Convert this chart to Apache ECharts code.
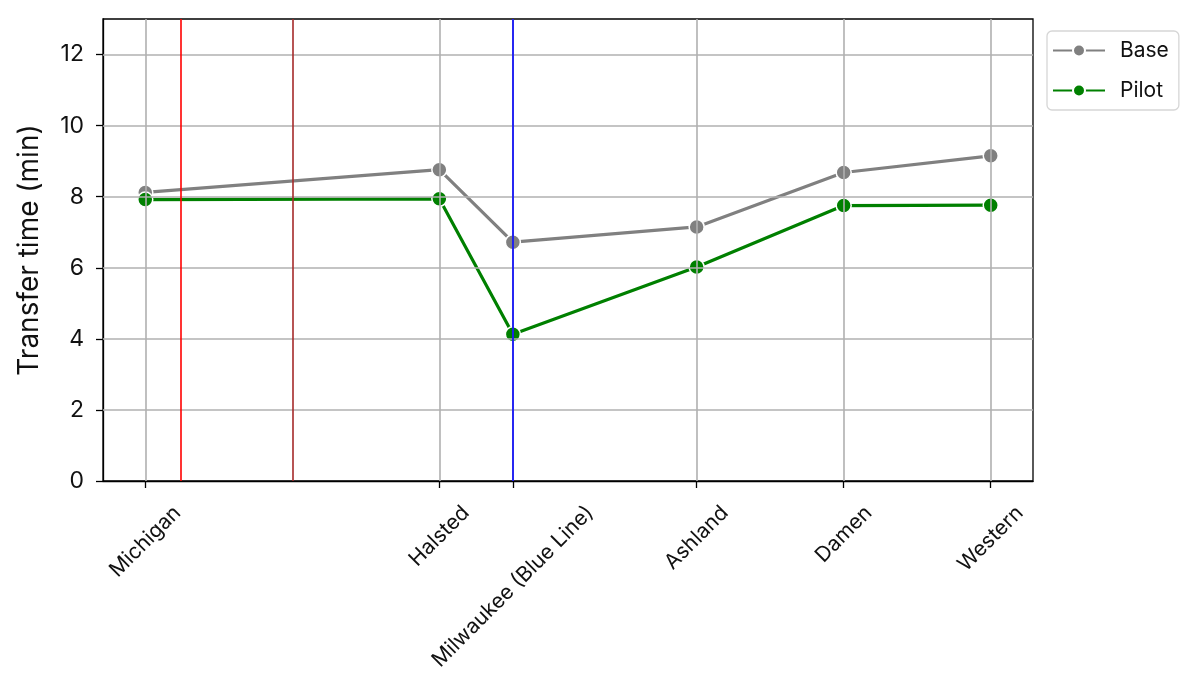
<!DOCTYPE html>
<html>
<head>
<meta charset="utf-8">
<script src="https://cdn.jsdelivr.net/npm/echarts@6/dist/echarts.min.js"></script>
<style>
html, body { margin: 0; padding: 0; background: #fff; }
#chart { width: 1200px; height: 698px; }
</style>
</head>
<body>
<div id="chart"></div>
<script>
// stations along the corridor (position in axis units)
var stations = ['Michigan', 'Halsted', 'Milwaukee (Blue Line)', 'Ashland', 'Damen', 'Western'];
var stationPos = [0, 2, 2.5, 3.75, 4.75, 5.75];
var baseTimes = [8.12, 8.76, 6.72, 7.15, 8.68, 9.15];
var pilotTimes = [7.92, 7.94, 4.13, 6.02, 7.75, 7.76];
var yTicks = [0, 2, 4, 6, 8, 10, 12];
// reference lines (position, colour)
var refLinePos = [0.24, 1.0, 2.5];
var refLineColors = ['#ff0000', '#a52a2a', '#0000ff'];

var FONT = 'Inter';
var XLAB_SIZE = 21;

function pairs(xs, ys){
	var out = [];
	for (var i = 0; i < xs.length; i++) out.push([xs[i], ys[i]]);
	return out;
}

// measure text so the rotated labels can be centred under the tick (matplotlib style)
var measureCtx = document.createElement('canvas').getContext('2d');
measureCtx.font = XLAB_SIZE + 'px ' + FONT;
var richLabels = {};
stations.forEach(function(s, i){
	var L = measureCtx.measureText(s).width, h = XLAB_SIZE;
	richLabels['s' + i] = {
		fontFamily: FONT, fontSize: XLAB_SIZE, color: '#111',
		padding: [Math.max(0, 0.25 * (L - h)), 0.5 * (L + h), 0, 0]
	};
});

function labelFor(v){
	for (var i = 0; i < stationPos.length; i++) {
		if (Math.abs(stationPos[i] - v) < 1e-6) return '{s' + i + '|' + stations[i] + '}';
	}
	return '';
}

function vline(name, pos, color, width, z){
	return {
		name: name,
		type: 'line',
		data: [],
		silent: true,
		z: z,
		color: color,
		markLine: {
			silent: true,
			symbol: 'none',
			label: { show: false },
			emphasis: { disabled: true },
			lineStyle: { color: color, width: width, type: 'solid', opacity: 1 },
			data: pos
		}
	};
}

var chart = echarts.init(document.getElementById('chart'), null, {renderer: 'canvas'});

var series = [];
// grid lines drawn as mark lines so they sit on the station positions
series.push(vline('gridx', stationPos.map(function(p){ return { xAxis: p }; }), '#b0b0b0', 1.6, 1));
series.push(vline('gridy', yTicks.slice(1).map(function(v){ return { yAxis: v }; }), '#b0b0b0', 1.6, 1));
refLinePos.forEach(function(p, i){
	series.push(vline('ref' + i, [{ xAxis: p }], refLineColors[i], 1.6, 2));
});
series.push({
	name: 'Base',
	type: 'line',
	z: 3,
	data: pairs(stationPos, baseTimes),
	symbol: 'circle', symbolSize: 15,
	lineStyle: { color: '#808080', width: 3.2 },
	itemStyle: { color: '#808080', borderColor: '#fff', borderWidth: 1.5 }
});
series.push({
	name: 'Pilot',
	type: 'line',
	z: 4,
	data: pairs(stationPos, pilotTimes),
	symbol: 'circle', symbolSize: 15,
	lineStyle: { color: '#008000', width: 3.2 },
	itemStyle: { color: '#008000', borderColor: '#fff', borderWidth: 1.5 }
});

var option = {
	animation: false,
	backgroundColor: '#fff',
	textStyle: { fontFamily: FONT },
	grid: {
		left: 103, right: 167, top: 19, bottom: 217,
		show: true, borderColor: '#000', borderWidth: 1.3,
		backgroundColor: 'transparent'
	},
	legend: {
		left: 1047, top: 31,
		orient: 'vertical',
		itemWidth: 52, itemHeight: 15, itemGap: 19,
		padding: [9, 10, 9, 5],
		borderColor: '#d6d6d6', borderWidth: 1.3, borderRadius: 5,
		textStyle: { fontFamily: FONT, fontSize: 21, color: '#111', padding: [0, 0, 0, 10] },
		data: ['Base', 'Pilot']
	},
	xAxis: {
		type: 'value',
		min: -0.2875, max: 6.0375,
		axisLine: { show: true, onZero: false, lineStyle: { color: '#000', width: 1.3 } },
		axisTick: { show: true, customValues: stationPos, length: 7, lineStyle: { color: '#000', width: 1.3 } },
		axisLabel: {
			customValues: stationPos,
			rotate: 45, margin: 21,
			align: 'center', verticalAlign: 'top',
			formatter: labelFor,
			rich: richLabels
		},
		splitLine: { show: false }
	},
	yAxis: {
		type: 'value',
		min: 0, max: 13,
		name: 'Transfer time (min)',
		nameLocation: 'middle', nameGap: 59,
		nameTextStyle: { fontFamily: FONT, fontSize: 28, color: '#111' },
		axisLine: { show: true, onZero: false, lineStyle: { color: '#000', width: 1.3 } },
		axisTick: { show: true, customValues: yTicks, length: 7, lineStyle: { color: '#000', width: 1.3 } },
		axisLabel: { customValues: yTicks, margin: 19, fontFamily: FONT, fontSize: 23, color: '#111' },
		splitLine: { show: false }
	},
	series: series
};

chart.setOption(option);
</script>
</body>
</html>
